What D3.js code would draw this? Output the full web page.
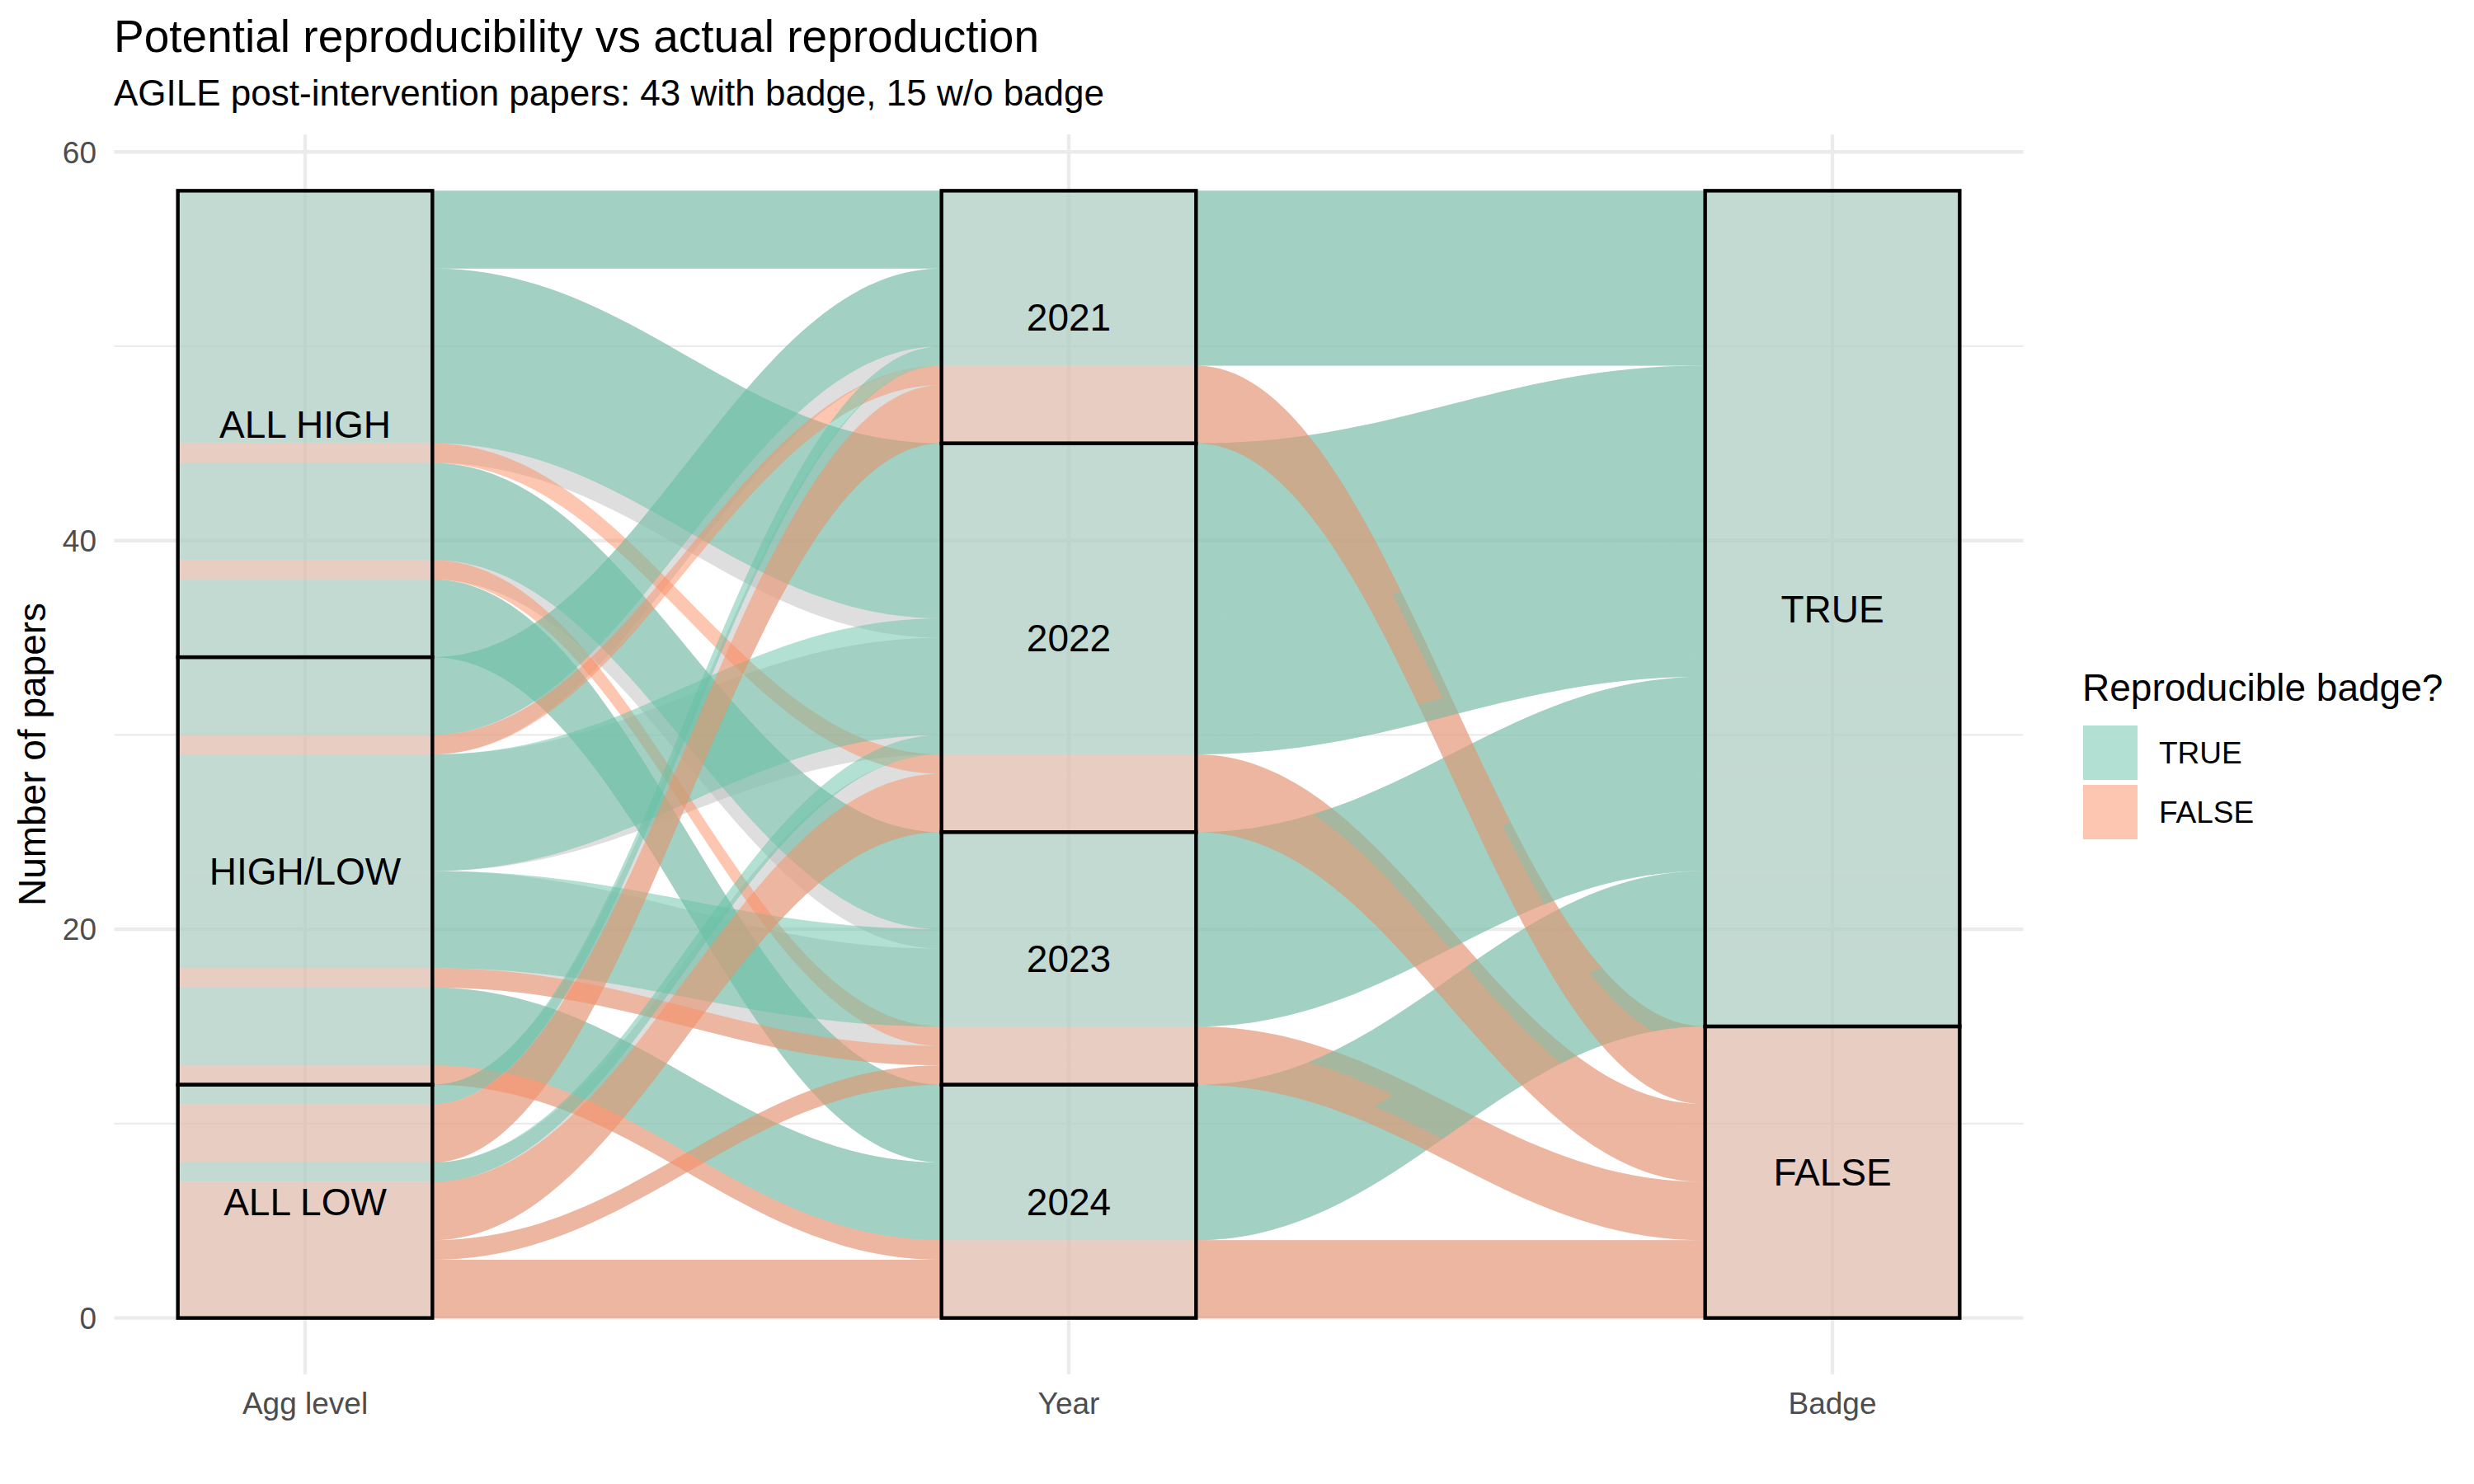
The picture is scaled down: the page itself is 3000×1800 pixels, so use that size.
<!DOCTYPE html>
<html>
<head>
<meta charset="utf-8">
<script src="https://cdn.jsdelivr.net/npm/d3@7"></script>
<style>
  html, body { margin: 0; padding: 0; background: #ffffff; }
  svg { display: block; }
  text { font-family: "Liberation Sans", Arial, Helvetica, sans-serif; }
</style>
</head>
<body>
<svg id="chart" width="3000" height="1800"></svg>
<script>
// ---------------- data ----------------
const axisNames   = ["Agg level", "Year", "Badge"];
const aggLevels   = ["ALL HIGH", "HIGH/LOW", "ALL LOW"];
const yearLevels  = ["2021", "2022", "2023", "2024"];
const badgeLevels = ["TRUE", "FALSE"];

// one entry per alluvium (agg level, year, badge, number of papers)
const alluvAgg   = ["ALL HIGH","ALL HIGH","ALL HIGH","ALL HIGH","ALL HIGH","ALL HIGH",
                    "HIGH/LOW","HIGH/LOW","HIGH/LOW","HIGH/LOW","HIGH/LOW","HIGH/LOW","HIGH/LOW",
                    "ALL LOW","ALL LOW","ALL LOW","ALL LOW","ALL LOW","ALL LOW"];
const alluvYear  = ["2021","2022","2022","2023","2023","2024",
                    "2021","2021","2022","2023","2023","2024","2024",
                    "2021","2021","2022","2022","2023","2024"];
const alluvBadge = ["TRUE","TRUE","FALSE","TRUE","FALSE","TRUE",
                    "TRUE","FALSE","TRUE","TRUE","FALSE","TRUE","FALSE",
                    "TRUE","FALSE","TRUE","FALSE","FALSE","FALSE"];
const alluvCount = [4, 9, 1, 5, 1, 4,
                    4, 1, 6, 5, 1, 4, 1,
                    1, 3, 1, 3, 1, 3];

const yTicks      = [0, 20, 40, 60];
const yMinorTicks = [10, 30, 50];

const titleText    = "Potential reproducibility vs actual reproduction";
const subtitleText = "AGILE post-intervention papers: 43 with badge, 15 w/o badge";
const yTitleText   = "Number of papers";
const legendTitle  = "Reproducible badge?";

// ---------------- setup ----------------
const fillColor = d3.scaleOrdinal().domain(badgeLevels).range(["#66c2a5", "#fc8d62"]);
const svg = d3.select("#chart");

const panel = { left: 138.5, right: 2453.5, top: 163, bottom: 1667 };
const total = d3.sum(alluvCount);
const x = d3.scaleLinear().domain([0.75, 3.25]).range([panel.left, panel.right]);
const y = d3.scaleLinear().domain([-total * 0.05, 60.9]).range([panel.bottom, panel.top]);
const halfW = 1 / 6;
const knot = 0.4;

const levelsByAxis = [aggLevels, yearLevels, badgeLevels];
const alluvia = alluvCount.map((n, i) => ({
  n,
  badge: alluvBadge[i],
  idx: [aggLevels.indexOf(alluvAgg[i]), yearLevels.indexOf(alluvYear[i]), badgeLevels.indexOf(alluvBadge[i])]
}));

// stratum extents per axis (first level on top)
const strata = levelsByAxis.map((levels, a) => {
  let top = total;
  return levels.map((lab, s) => {
    const n = d3.sum(alluvia.filter(d => d.idx[a] === s), d => d.n);
    const st = { axis: a, label: lab, top, bottom: top - n };
    top -= n;
    return st;
  });
});

// lode ordering of the alluvia inside each stratum
const sortKeys = [[1, 2], [2, 0], [1, 0]];
alluvia.forEach(d => { d.top = []; d.bot = []; });
for (let a = 0; a < 3; a++) {
  strata[a].forEach((st, s) => {
    const members = alluvia.filter(d => d.idx[a] === s)
      .sort((p, q) => (p.idx[sortKeys[a][0]] - q.idx[sortKeys[a][0]]) || (p.idx[sortKeys[a][1]] - q.idx[sortKeys[a][1]]));
    let t = st.top;
    members.forEach(d => { d.top[a] = t; d.bot[a] = t - d.n; t -= d.n; });
  });
}

function curve(xa, ya, xb, yb) {
  const dx = xb - xa;
  return `C${xa + knot * dx},${ya} ${xb - knot * dx},${yb} ${xb},${yb}`;
}

// grey flows between adjacent axes (aggregated by the stratum pair)
const flows = [];
for (let a = 0; a < 2; a++) {
  const pairs = d3.rollups(alluvia, v => d3.sum(v, d => d.n), d => d.idx[a], d => d.idx[a + 1]);
  const list = [];
  pairs.forEach(([s0, inner]) => inner.forEach(([s1, n]) => list.push({ a, s0, s1, n })));
  // positions at the left axis: by destination stratum
  strata[a].forEach((st, s) => {
    let t = st.top;
    list.filter(f => f.s0 === s).sort((p, q) => p.s1 - q.s1).forEach(f => { f.t0 = t; f.b0 = t - f.n; t -= f.n; });
  });
  // positions at the right axis: by source stratum
  strata[a + 1].forEach((st, s) => {
    let t = st.top;
    list.filter(f => f.s1 === s).sort((p, q) => p.s0 - q.s0).forEach(f => { f.t1 = t; f.b1 = t - f.n; t -= f.n; });
  });
  list.sort((p, q) => (p.s0 - q.s0) || (p.s1 - q.s1));
  flows.push(...list);
}

// ---------------- grid ----------------
const grid = svg.append("g");
grid.selectAll("line.minor").data(yMinorTicks).join("line")
  .attr("x1", panel.left).attr("x2", panel.right)
  .attr("y1", d => y(d)).attr("y2", d => y(d))
  .attr("stroke", "#ebebeb").attr("stroke-width", 2.2);
grid.selectAll("line.major").data(yTicks).join("line")
  .attr("x1", panel.left).attr("x2", panel.right)
  .attr("y1", d => y(d)).attr("y2", d => y(d))
  .attr("stroke", "#ebebeb").attr("stroke-width", 4.4);
grid.selectAll("line.vx").data(axisNames).join("line")
  .attr("x1", (d, i) => x(i + 1)).attr("x2", (d, i) => x(i + 1))
  .attr("y1", panel.top).attr("y2", panel.bottom)
  .attr("stroke", "#ebebeb").attr("stroke-width", 4.4);

// ---------------- grey flows ----------------
svg.append("g").selectAll("path").data(flows).join("path")
  .attr("d", f => {
    const xa = x(f.a + 1 + halfW), xb = x(f.a + 2 - halfW);
    return `M${xa},${y(f.t0)} ${curve(xa, y(f.t0), xb, y(f.t1))} L${xb},${y(f.b1)} ${curve(xb, y(f.b1), xa, y(f.b0))} Z`;
  })
  .attr("fill", "#bebebe").attr("fill-opacity", 0.5);

// ---------------- coloured alluvia ----------------
svg.append("g").selectAll("path").data(alluvia).join("path")
  .attr("d", d => {
    let p = `M${x(1 - halfW)},${y(d.top[0])} L${x(1 + halfW)},${y(d.top[0])}`;
    for (let a = 1; a < 3; a++) {
      p += ` ${curve(x(a + halfW), y(d.top[a - 1]), x(a + 1 - halfW), y(d.top[a]))} L${x(a + 1 + halfW)},${y(d.top[a])}`;
    }
    p += ` L${x(3 + halfW)},${y(d.bot[2])} L${x(3 - halfW)},${y(d.bot[2])}`;
    for (let a = 2; a >= 1; a--) {
      p += ` ${curve(x(a + 1 - halfW), y(d.bot[a]), x(a + halfW), y(d.bot[a - 1]))} L${x(a - halfW)},${y(d.bot[a - 1])}`;
    }
    return p + " Z";
  })
  .attr("fill", d => fillColor(d.badge)).attr("fill-opacity", 0.5);

// ---------------- strata ----------------
const allStrata = strata.flat();
const sg = svg.append("g");
sg.selectAll("rect").data(allStrata).join("rect")
  .attr("x", d => x(d.axis + 1 - halfW))
  .attr("width", x(1 + halfW) - x(1 - halfW))
  .attr("y", d => y(d.top))
  .attr("height", d => y(d.bottom) - y(d.top))
  .attr("fill", "#d3d3d3").attr("fill-opacity", 0.5)
  .attr("stroke", "#000000").attr("stroke-width", 4.4);
sg.selectAll("text").data(allStrata).join("text")
  .attr("x", d => x(d.axis + 1))
  .attr("y", d => y((d.top + d.bottom) / 2))
  .attr("dy", "0.36em")
  .attr("text-anchor", "middle")
  .attr("font-size", 46).attr("fill", "#000000")
  .text(d => d.label);

// ---------------- axes ----------------
svg.append("g").selectAll("text").data(yTicks).join("text")
  .attr("x", 117).attr("y", d => y(d)).attr("dy", "0.36em")
  .attr("text-anchor", "end").attr("font-size", 37).attr("fill", "#4d4d4d")
  .text(d => d);
svg.append("g").selectAll("text").data(axisNames).join("text")
  .attr("x", (d, i) => x(i + 1)).attr("y", 1715)
  .attr("text-anchor", "middle").attr("font-size", 37).attr("fill", "#4d4d4d")
  .text(d => d);
svg.append("text")
  .attr("transform", `translate(55,${(panel.top + panel.bottom) / 2}) rotate(-90)`)
  .attr("text-anchor", "middle").attr("font-size", 46).attr("fill", "#000000")
  .text(yTitleText);

// ---------------- titles ----------------
svg.append("text").attr("x", 138).attr("y", 63).attr("font-size", 55).attr("fill", "#000000").text(titleText);
svg.append("text").attr("x", 138).attr("y", 128).attr("font-size", 44).attr("fill", "#000000").text(subtitleText);

// ---------------- legend ----------------
const lg = svg.append("g");
lg.append("text").attr("x", 2525).attr("y", 850).attr("font-size", 46).attr("fill", "#000000").text(legendTitle);
const items = lg.selectAll("g.item").data(badgeLevels).join("g")
  .attr("transform", (d, i) => `translate(2526,${880 + i * 72})`);
items.append("rect").attr("width", 66).attr("height", 66)
  .attr("fill", d => fillColor(d)).attr("fill-opacity", 0.5);
items.append("text").attr("x", 92).attr("y", 33).attr("dy", "0.36em")
  .attr("font-size", 37).attr("fill", "#000000").text(d => d);
</script>
</body>
</html>
